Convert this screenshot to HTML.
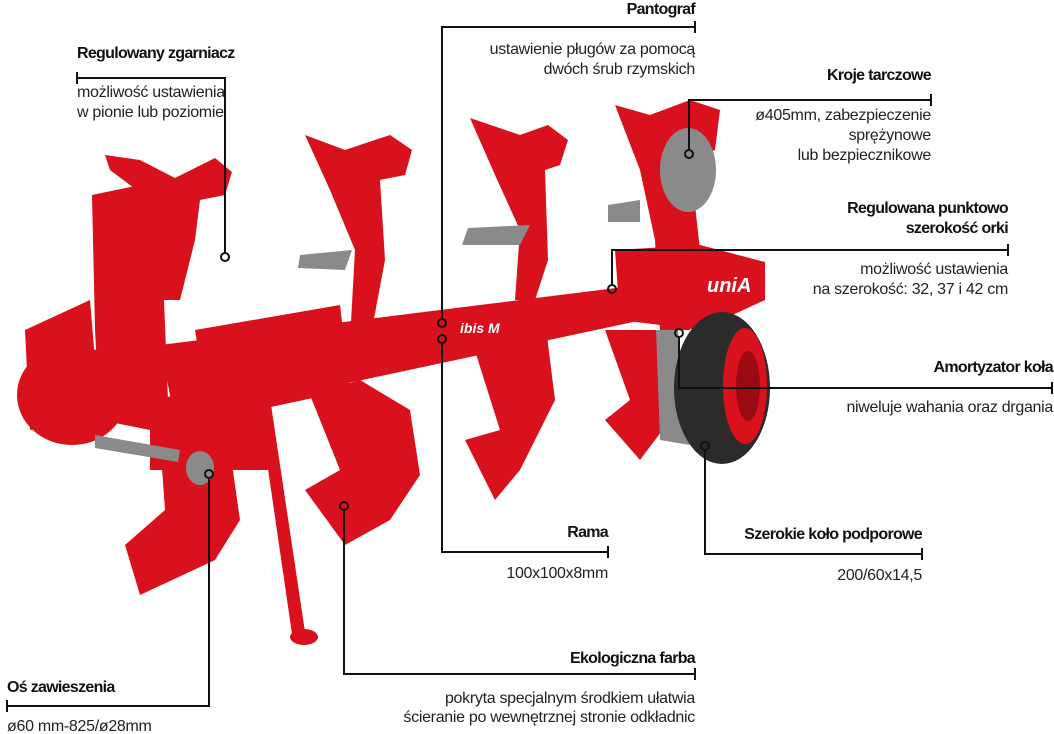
<!DOCTYPE html>
<html><head><meta charset="utf-8"><style>
html,body{margin:0;padding:0;background:#fff;}
svg{display:block}
.b{font-family:"Liberation Sans",sans-serif;font-weight:bold;font-size:16px;fill:#111;letter-spacing:-0.7px}
.t{font-family:"Liberation Sans",sans-serif;font-size:16px;fill:#222;letter-spacing:-0.3px}
.l{stroke:#111;stroke-width:2;fill:none}
.c{stroke:#111;stroke-width:2;fill:none}
</style></head><body>
<svg width="1054" height="734" viewBox="0 0 1054 734" xmlns="http://www.w3.org/2000/svg">
<g fill="#d9111c">
 <polygon points="105,155 140,160 175,178 215,158 232,172 225,195 200,200 195,240 180,300 160,300 150,200 110,170"/>
 <polygon points="92,195 140,185 160,200 168,400 150,430 100,420 95,330"/>
 <ellipse cx="72" cy="395" rx="55" ry="50"/>
 <polygon points="25,330 90,300 100,420 30,430"/>
 <polygon points="305,135 345,150 390,135 412,150 405,175 380,180 385,260 370,340 350,340 355,250 330,190"/>
 <polygon points="470,118 520,135 548,125 568,140 560,165 545,170 548,260 535,300 515,300 520,230 495,175"/>
 <polygon points="615,105 650,115 690,100 720,110 715,150 690,160 700,250 690,330 660,330 655,240 640,170"/>
 <polygon points="615,250 700,245 765,262 765,300 700,330 620,320"/>
 <polygon points="160,345 640,285 652,318 175,420"/>
 <polygon points="195,330 340,305 350,390 210,420"/>
 <polygon points="150,400 260,380 270,470 150,470"/>
 <polygon points="160,440 230,450 240,520 215,560 140,595 125,545 165,510"/>
 <polygon points="310,395 360,380 410,410 420,475 390,520 345,545 305,490 340,470"/>
 <polygon points="470,335 545,320 555,400 520,470 495,500 465,440 500,430"/>
 <polygon points="605,330 660,330 670,420 640,460 605,420 630,400"/>
 <polygon points="258,400 270,398 305,632 292,634"/>
 <ellipse cx="304" cy="637" rx="14" ry="8"/>
</g>
<g fill="#8a8a8a">
 <polygon points="300,255 352,250 345,270 298,268"/>
 <polygon points="468,228 530,225 520,245 462,245"/>
 <polygon points="608,205 640,200 640,222 608,222"/>
 <ellipse cx="688" cy="170" rx="28" ry="42"/>
 <polygon points="95,435 180,450 178,462 95,448"/>
 <ellipse cx="200" cy="468" rx="14" ry="17"/>
 <polygon points="656,330 678,330 690,445 660,440"/>
</g>
<ellipse cx="722" cy="388" rx="48" ry="76" fill="#2b2b2b"/>
<ellipse cx="745" cy="386" rx="22" ry="58" fill="#d9111c"/>
<ellipse cx="748" cy="386" rx="12" ry="35" fill="#9a0a12"/>
<text x="707" y="292" font-family="Liberation Sans,sans-serif" font-weight="bold" font-style="italic" font-size="20" fill="#fff">uniA</text>
<text x="460" y="333" font-family="Liberation Sans,sans-serif" font-weight="bold" font-style="italic" font-size="14" fill="#fff">ibis M</text>

<path class="l" d="M77,72 V84 M77,78 H225 V253"/><circle class="c" cx="225" cy="257" r="4" fill="#fff"/>
<path class="l" d="M695,21 V33 M695,27 H442 V319"/><circle class="c" cx="442" cy="323" r="4" fill="#fff"/>
<path class="l" d="M442,343 V552 H608 M608,546 V558"/><circle class="c" cx="442" cy="339" r="4" fill="#fff"/>
<path class="l" d="M931,94 V106 M931,100 H689 V150"/><circle class="c" cx="689" cy="154" r="4" fill="#fff"/>
<path class="l" d="M1008,244 V256 M1008,250 H612 V285"/><circle class="c" cx="612" cy="289" r="4" fill="#fff"/>
<path class="l" d="M679,337 V388 H1053 M1052,382 V394"/><circle class="c" cx="679" cy="333" r="4" fill="#fff"/>
<path class="l" d="M705,450 V554 H922 M922,548 V560"/><circle class="c" cx="705" cy="446" r="4" fill="#fff"/>
<path class="l" d="M344,510 V674 H695 M695,668 V680"/><circle class="c" cx="344" cy="506" r="4" fill="#fff"/>
<path class="l" d="M209,478 V706 H7 M7,700 V712"/><circle class="c" cx="209" cy="474" r="4" fill="#fff"/>

<text class="b" x="77" y="58">Regulowany zgarniacz</text>
<text class="t" x="77" y="97">możliwość ustawienia</text>
<text class="t" x="77" y="117">w pionie lub poziomie</text>
<g text-anchor="end">
<text class="b" x="695" y="14">Pantograf</text>
<text class="t" x="695" y="54">ustawienie pługów za pomocą</text>
<text class="t" x="695" y="74">dwóch śrub rzymskich</text>
<text class="b" x="931" y="80">Kroje tarczowe</text>
<text class="t" x="931" y="120">ø405mm, zabezpieczenie</text>
<text class="t" x="931" y="140">sprężynowe</text>
<text class="t" x="931" y="160">lub bezpiecznikowe</text>
<text class="b" x="1008" y="213">Regulowana punktowo</text>
<text class="b" x="1008" y="233">szerokość orki</text>
<text class="t" x="1008" y="274">możliwość ustawienia</text>
<text class="t" x="1008" y="294">na szerokość: 32, 37 i 42 cm</text>
<text class="b" x="1053" y="372">Amortyzator koła</text>
<text class="t" x="1053" y="412">niweluje wahania oraz drgania</text>
<text class="b" x="608" y="537">Rama</text>
<text class="t" x="608" y="578">100x100x8mm</text>
<text class="b" x="922" y="539">Szerokie koło podporowe</text>
<text class="t" x="922" y="580">200/60x14,5</text>
<text class="b" x="695" y="663">Ekologiczna farba</text>
<text class="t" x="695" y="703">pokryta specjalnym środkiem ułatwia</text>
<text class="t" x="695" y="722">ścieranie po wewnętrznej stronie odkładnic</text>
</g>
<text class="b" x="7" y="692">Oś zawieszenia</text>
<text class="t" x="7" y="731">ø60 mm-825/ø28mm</text>
</svg>
</body></html>
